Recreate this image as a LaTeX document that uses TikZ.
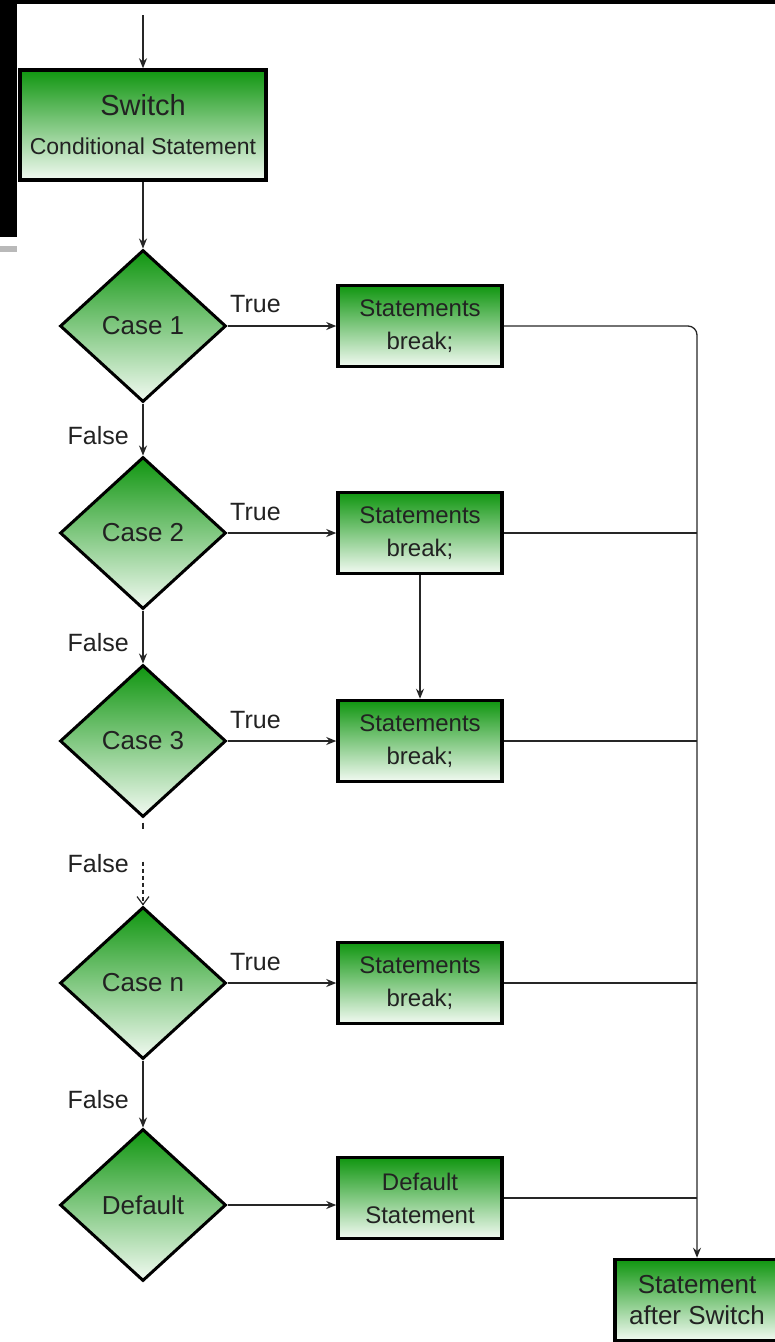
\documentclass[tikz,border=0pt]{standalone}
\usepackage{fontspec}
\setmainfont{Liberation Sans}
\usetikzlibrary{shapes.geometric,arrows.meta}
\definecolor{gtop}{RGB}{16,150,16}
\definecolor{gbot}{RGB}{242,250,242}
\definecolor{txt}{RGB}{34,34,34}
\begin{document}
\begin{tikzpicture}[x=1pt,y=-1pt,
  box/.style={rectangle, draw=black, line width=3.5pt, top color=gtop, bottom color=gbot,
    minimum width=164pt, minimum height=81pt, inner sep=0pt, align=center,
    font=\fontsize{24}{33}\selectfont, text=txt},
  dia/.style={diamond, draw=black, line width=3pt, top color=gtop, bottom color=gbot,
    minimum width=166pt, minimum height=152pt, inner sep=0pt,
    font=\fontsize{26}{30}\selectfont, text=txt},
  conn/.style={line width=1.3pt, draw=black!85},
  arr/.style={conn, -{Stealth[length=10pt,width=8pt]}},
  lbl/.style={font=\fontsize{25}{30}\selectfont, text=txt, inner sep=0pt},
]
\useasboundingbox (0,0) rectangle (775,1342);
% screenshot edges
\fill[black] (0,0) rectangle (775,4);
\fill[black] (0,0) rectangle (17,237);
\fill[gray!55] (0,246) rectangle (17,252);

\coordinate (start) at (143,15);
\node[box, minimum width=246pt, minimum height=110pt] (sw) at (143,125)
  {\fontsize{29}{35}\selectfont Switch\\[6pt]\fontsize{23}{28}\selectfont Conditional Statement};

\node[dia] (c1) at (143,326) {Case 1};
\node[dia] (c2) at (143,533) {Case 2};
\node[dia] (c3) at (143,741) {Case 3};
\node[dia] (cn) at (143,983) {Case n};
\node[dia] (def) at (143,1205) {Default};

\node[box] (b1) at (420,326) {Statements\\break;};
\node[box] (b2) at (420,533) {Statements\\break;};
\node[box] (b3) at (420,741) {Statements\\break;};
\node[box] (bn) at (420,983) {Statements\\break;};
\node[box] (db) at (420,1198) {Default\\Statement};
\node[box, font=\fontsize{26}{31}\selectfont] (fin) at (697,1300) {Statement\\after Switch};

% main column
\draw[arr] (start) -- (sw.north);
\draw[arr] (sw.south) -- (c1.north);
\draw[arr] (c1.south) -- (c2.north);
\draw[arr] (c2.south) -- (c3.north);
\draw[conn, dash pattern=on 0pt off 4pt on 6pt off 33pt on 4pt off 3pt on 4pt off 3pt on 4pt off 3pt on 4pt off 3pt on 4pt off 3pt on 4pt off 3pt on 4pt off 3pt on 4pt off 3pt,
  -{Straight Barb[length=8pt,width=12pt,line width=1.2pt]}] (c3.south) -- (cn.north);
\draw[arr] (cn.south) -- (def.north);

% true branches
\draw[arr] (c1.east) -- (b1.west);
\draw[arr] (c2.east) -- (b2.west);
\draw[arr] (c3.east) -- (b3.west);
\draw[arr] (cn.east) -- (bn.west);
\draw[arr] (def.east) -- (def.east -| db.west);
\draw[arr] (b2.south) -- (b3.north);

% collector
\draw[arr, rounded corners=9pt] (b1.east) -- (b1.east -| fin.north) -- (fin.north);
\draw[conn] (b2.east) -- (b2.east -| fin.north);
\draw[conn] (b3.east) -- (b3.east -| fin.north);
\draw[conn] (bn.east) -- (bn.east -| fin.north);
\draw[conn] (db.east) -- (db.east -| fin.north);

% labels
\node[lbl, anchor=base west] (t1) at (230,312) {True};
\node[lbl, anchor=base west] (t2) at (230,520) {True};
\node[lbl, anchor=base west] (t3) at (230,728) {True};
\node[lbl, anchor=base west] (t4) at (230,970) {True};
\node[lbl, anchor=base east] (f1) at (129,444) {False};
\node[lbl, anchor=base east] (f2) at (129,651) {False};
\node[lbl, anchor=base east] (f3) at (129,872) {False};
\node[lbl, anchor=base east] (f4) at (129,1108) {False};
\end{tikzpicture}
\end{document}
